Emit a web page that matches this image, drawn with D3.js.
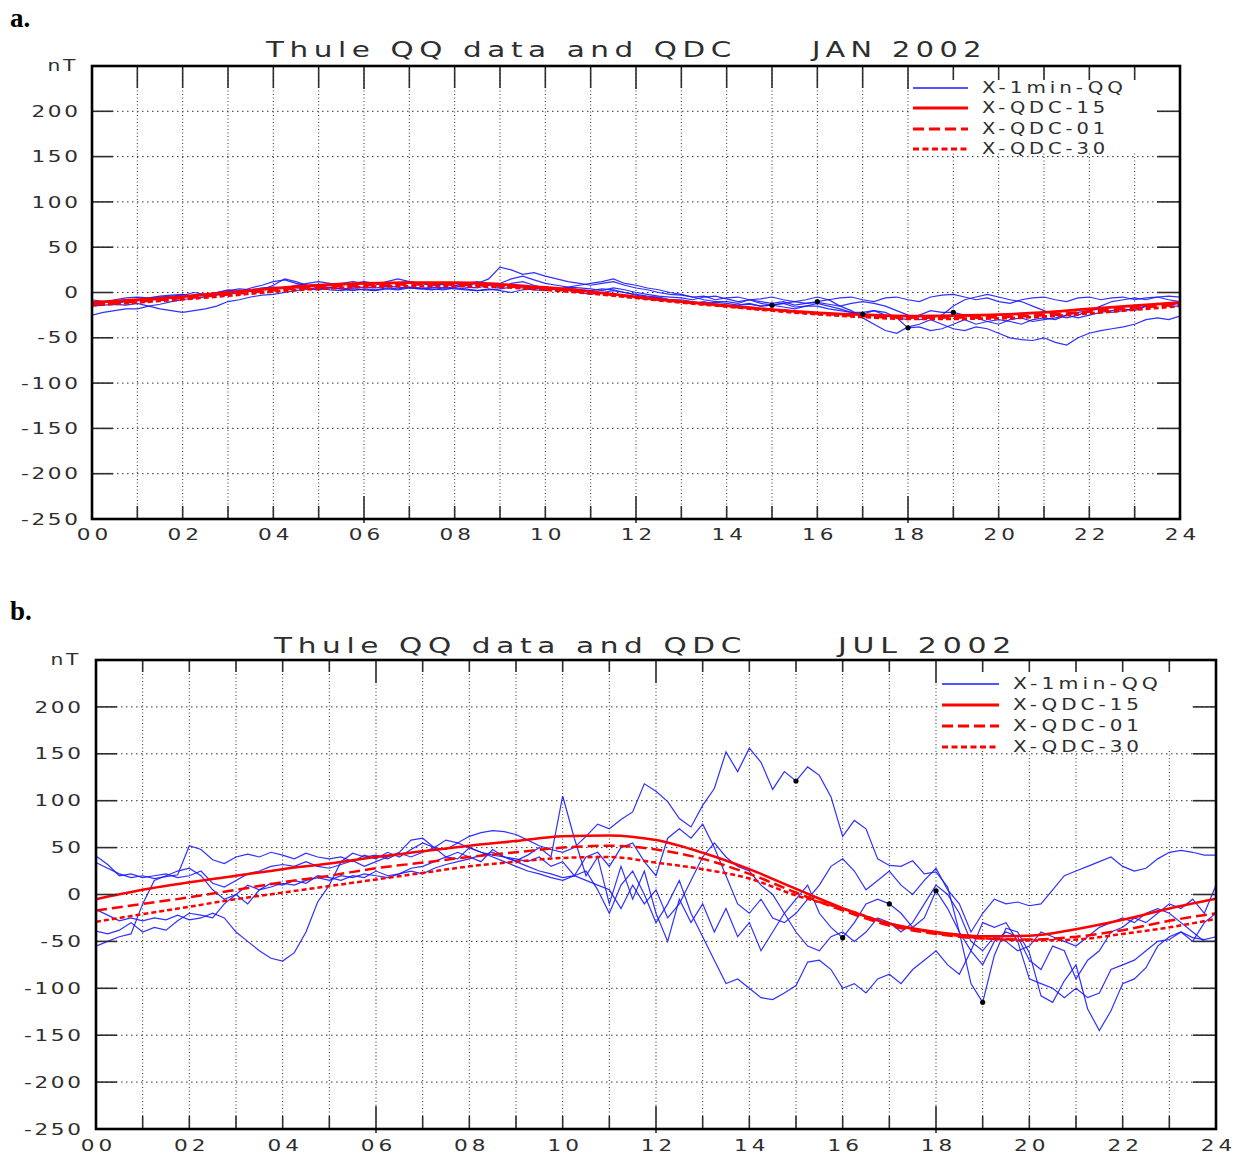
<!DOCTYPE html>
<html>
<head>
<meta charset="utf-8">
<script src="https://cdn.jsdelivr.net/npm/d3@7"></script>
<style>
body { margin: 0; background: #fff; }
svg { display: block; }
</style>
</head>
<body>
<svg id="chart" width="1248" height="1156"></svg>
<script>
// sample times: QQ curves every 15 minutes, QDC curves every hour
const hours_qq = d3.range(0, 97).map(i => i / 4);
const hours_qdc = d3.range(0, 25);

// tick labels
const x_label_hours = d3.range(0, 25, 2);
const y_label_values = [200, 150, 100, 50, 0, -50, -100, -150, -200, -250];

// ---- panel a : JAN 2002 ----
const qq_jan_1 = [
  -25, -22, -20, -18, -18, -15, -13, -10, -8, -6, -5, -3, -2, 0, 2, 3,
  8, 15, 12, 8, 5, 6, 4, 5, 6, 5, 7, 6, 5, 4, 6, 5,
  6, 8, 10, 15, 28, 25, 20, 22, 18, 15, 12, 10, 8, 10, 12, 8,
  5, 3, 0, -2, -3, -5, -8, -10, -10, -12, -8, -10, -12, -10, -14, -12,
  -10, -8, -15, -20, -28, -35, -42, -45, -38, -35, -30, -35, -40, -42, -38, -40,
  -45, -50, -52, -53, -50, -55, -58, -50, -45, -42, -40, -38, -35, -30, -28, -30,
  -26];
const qq_jan_2 = [
  -8, -10, -12, -10, -8, -6, -5, -4, -3, 0, -2, 0, 2, 4, 3, 5,
  6, 5, 8, 10, 12, 10, 8, 10, 12, 10, 9, 11, 12, 10, 8, 9,
  8, 6, 5, 8, 5, 10, 12, 8, 5, 3, 6, 8, 10, 12, 15, 10,
  8, 5, 3, 0, -2, -5, -4, -8, -6, -5, -8, -7, -5, -8, -10, -8,
  -5, -8, -6, -5, -8, -10, -6, -5, -8, -10, -5, -3, -2, -5, -8, -6,
  -10, -12, -8, -6, -5, -8, -10, -6, -5, -8, -6, -5, -8, -6, -5, -4,
  -5];
const qq_jan_3 = [
  -15, -14, -13, -14, -12, -15, -18, -20, -22, -20, -18, -15, -10, -8, -5, -3,
  -2, 0, 2, 4, 5, 3, 2, 4, 3, 2, 4, 3, 5, 4, 3, 5,
  4, 3, 2, 4, 2, 0, 3, 4, 5, 3, 2, 0, -2, 0, 2, 0,
  -3, -5, -6, -8, -10, -12, -10, -13, -15, -14, -12, -15, -14, -16, -18, -15,
  -12, -15, -18, -22, -24, -20, -22, -28, -30, -25, -20, -22, -22, -25, -28, -32,
  -35, -30, -28, -32, -30, -28, -25, -22, -20, -18, -22, -20, -18, -15, -12, -14,
  -12];
const qq_jan_4 = [
  -10, -12, -8, -6, -5, -6, -4, -3, -2, -4, -2, 0, 3, 1, 5, 8,
  12, 14, 10, 8, 6, 8, 10, 12, 10, 8, 12, 15, 12, 10, 8, 10,
  8, 10, 12, 10, 10, 15, 18, 14, 10, 8, 6, 5, 4, 2, 5, 3,
  0, -2, -4, -5, -6, -8, -5, -4, -7, -10, -8, -12, -14, -12, -10, -12,
  -11, -13, -15, -12, -10, -12, -15, -20, -25, -30, -28, -25, -15, -8, -5, -2,
  -5, -8, -10, -15, -20, -25, -28, -25, -20, -15, -10, -8, -6, -8, -5, -8,
  -10];
const qq_jan_5 = [
  -12, -10, -12, -9, -8, -9, -7, -6, -5, -3, -4, -2, 0, 2, 1, 3,
  4, 6, 5, 4, 3, 5, 4, 2, 4, 3, 5, 4, 6, 5, 4, 3,
  5, 4, 2, 3, 4, 6, 5, 3, 2, 4, 5, 3, 2, 4, 3, 0,
  -2, -4, -5, -8, -8, -10, -12, -11, -12, -14, -13, -15, -14, -12, -16, -15,
  -15, -18, -20, -22, -22, -20, -25, -28, -39, -38, -42, -40, -35, -30, -35, -32,
  -30, -32, -35, -30, -28, -30, -25, -28, -25, -22, -20, -18, -20, -15, -12, -15,
  -15];
const qdc15_jan = [-11, -8, -4.5, 0, 4.5, 8, 10, 11, 11, 9, 5.5, 1, -5, -10, -14.5, -19, -22.5, -24.5, -26, -25.5, -24.5, -22, -18, -14.5, -11];
const qdc01_jan = [-13, -10, -6, -2, 2.5, 6, 8, 9, 9, 7.5, 4, 0, -5, -10, -15, -19, -23, -26, -27.5, -27.5, -27, -25, -21, -17, -13];
const qdc30_jan = [-14, -11, -7.5, -3.5, 1, 4, 6, 7, 7, 6, 3, -1, -6, -11, -15.5, -20, -24, -27, -29, -29, -28.5, -26.5, -23, -19, -15];
const dot_hours_jan = [15, 16, 17, 18, 19];
const dot_values_jan = [-14, -10, -24, -39, -22];

// ---- panel b : JUL 2002 ----
const qq_jul_1 = [
  34, 28, 22, 18, 20, 17, 19, 21, 52, 48, 37, 33, 40, 43, 40, 45,
  42, 38, 44, 40, 38, 40, 35, 42, 38, 45, 40, 48, 55, 50, 58, 55,
  62, 66, 68, 67, 64, 58, 52, 48, 45, 50, 62, 75, 70, 80, 88, 118,
  110, 99, 81, 72, 95, 113, 152, 131, 156, 141, 112, 131, 121, 136, 127, 104,
  62, 79, 70, 38, 31, 30, 36, 22, 24, 8, -40, -95, -115, -65, -36, -40,
  -62, -108, -115, -92, -75, -122, -145, -124, -95, -90, -78, -55, -45, -40, -46, -48,
  -45];
const qq_jul_2 = [
  41, 32, 20, 22, 18, 20, 22, 18, 20, 25, 12, 8, 15, 22, 25, 30,
  32, 30, 35, 30, 28, 32, 36, 30, 35, 40, 45, 58, 60, 50, 40, 45,
  40, 35, 48, 40, 36, 42, 50, 40, 105, 60, 20, 40, -10, 30, -5, 25,
  -20, -50, -5, -30, -10, -40, -15, -45, -30, -60, -40, -20, -5, 10, -20, -35,
  -46, -30, -10, -5, -10, -20, -35, -25, 4, -15, -40, -60, -75, -50, -40, -45,
  -70, -80, -55, -60, -90, -70, -60, -40, -35, -25, -30, -20, -10, -15, -5, -20,
  10];
const qq_jul_3 = [
  -16, -22, -28, -25, -28, -25, -27, -22, -27, -25, -20, -25, -40, -50, -60, -68,
  -71, -62, -40, -8, 10, 35, 44, 40, 42, 38, 44, 40, 45, 50, 48, 55,
  50, 45, 40, 35, 30, 25, 22, 18, 15, 20, 25, 5, -20, 10, 25, 0,
  -30, -10, 15, -20, -45, -70, -95, -90, -100, -110, -112, -105, -97, -72, -70, -80,
  -100, -95, -105, -90, -85, -95, -80, -70, -60, -75, -85, -60, -30, -35, -30, -50,
  -90, -95, -100, -110, -100, -110, -105, -80, -75, -70, -60, -50, -48, -40, -50, -30,
  -20];
const qq_jul_4 = [
  -39, -42, -38, -30, -40, -35, -38, -28, -20, -22, -25, -10, 0, 10, 5, 12,
  10, 15, 12, 20, 18, 15, 20, 18, 25, 20, 22, 28, 30, 35, 40, 38,
  50, 45, 42, 40, 38, 35, 40, 30, 35, 20, 40, 45, 30, 50, 55, 35,
  20, 60, 70, 60, 75, 50, 20, -10, -20, -5, -25, -30, -20, -5, 10, 30,
  38, 25, 5, 15, 25, 10, 0, 15, 28, 5, -10, -40, -20, -5, -10, -8,
  -12, -10, 5, 20, 25, 30, 35, 40, 30, 25, 28, 38, 45, 47, 45, 42,
  42];
const qq_jul_5 = [
  -55, -50, -45, -42, -10, 15, 20, 25, 28, 20, 5, -5, 0, -10, 5, 8,
  12, 10, 15, 18, 15, 20, 18, 22, 20, 18, 22, 25, 22, 28, 32, 35,
  38, 42, 45, 40, 35, 30, 25, 22, 18, 20, 15, 10, 5, -15, 10, -10,
  5, -25, -10, 15, 40, 55, 40, 30, 25, 10, 0, -20, -40, -55, -60, -45,
  -40, -50, -40, -25, -30, -40, -30, -10, 10, 0, -20, -50, -60, -45, -50, -60,
  -55, -40, -45, -50, -55, -45, -35, -30, -25, -30, -20, -15, -20, -30, -40, -50,
  -50];
const qdc15_jul = [-5, 5, 13, 20, 27, 33, 40, 46, 52, 57, 62, 63, 58, 44.5, 27, 6, -14.5, -31, -40, -44.5, -44, -37, -27, -15, -4.6];
const qdc01_jul = [-17, -10, -3, 5, 13, 20, 28, 34, 40, 45, 50, 52, 48, 38, 22, 2, -17, -33, -42, -47, -48, -45, -38, -28, -20];
const qdc30_jul = [-29, -21, -13, -5, 2, 9, 16, 23, 30, 35, 39, 40, 34, 27, 17, -1, -15, -31, -41, -46.5, -49, -48, -42, -35, -26];
const dot_hours_jul = [15, 16, 17, 18, 19];
const dot_values_jul = [121, -46, -10, 4, -115];

const legend_labels = ["X-1min-QQ", "X-QDC-15", "X-QDC-01", "X-QDC-30"];

// colours and fonts
const blue = "#1a1aff";
const red = "#ff0000";
const ink = "#2e2e2e";
const font_family = "'DejaVu Sans', Verdana, sans-serif";
const stretch = 1.35; // the plotter font is much wider than DejaVu

const svg = d3.select("#chart");

function draw_panel(p) {
    const x = d3.scaleLinear().domain([0, 24]).range([p.left, p.right]);
    const y = d3.scaleLinear().domain([-250, 250]).range([p.bottom, p.top]);
    const g = svg.append("g");

    // panel letter
    g.append("text")
        .attr("x", 10).attr("y", p.letter_y)
        .attr("font-family", "'Liberation Serif', 'Times New Roman', serif")
        .attr("font-weight", "bold").attr("font-size", 27)
        .text(p.letter);

    // title, two pieces stretched to the reference width
    p.title.forEach(t => {
        g.append("text")
            .attr("x", t.x).attr("y", p.title_y)
            .attr("textLength", t.w).attr("lengthAdjust", "spacingAndGlyphs")
            .attr("font-family", font_family).attr("font-size", 21)
            .attr("letter-spacing", 4)
            .attr("fill", ink)
            .text(t.text);
    });

    // dotted grid
    g.append("g").selectAll("line")
        .data(d3.range(1, 24)).join("line")
        .attr("x1", d => x(d)).attr("x2", d => x(d))
        .attr("y1", p.top).attr("y2", p.bottom)
        .attr("stroke", "#333").attr("stroke-width", 1)
        .attr("stroke-dasharray", "1,2.5");
    g.append("g").selectAll("line")
        .data(d3.range(-200, 250, 50)).join("line")
        .attr("x1", p.left).attr("x2", p.right)
        .attr("y1", d => y(d)).attr("y2", d => y(d))
        .attr("stroke", "#333").attr("stroke-width", 1)
        .attr("stroke-dasharray", "1.5,3.5");

    // clip lines to the plot box
    const clip_id = "clip-" + p.letter;
    g.append("clipPath").attr("id", clip_id)
        .append("rect")
        .attr("x", p.left).attr("y", p.top)
        .attr("width", p.right - p.left).attr("height", p.bottom - p.top);
    const plot = g.append("g").attr("clip-path", `url(#${clip_id})`);

    // QQ day curves
    const qq_line = d3.line()
        .x((d, i) => x(hours_qq[i]))
        .y(d => y(d));
    p.qq.forEach(series => {
        plot.append("path")
            .attr("d", qq_line(series))
            .attr("fill", "none")
            .attr("stroke", blue)
            .attr("stroke-width", 1.2)
            .attr("stroke-opacity", 0.9);
    });

    // QDC curves
    const qdc_line = d3.line()
        .x((d, i) => x(hours_qdc[i]))
        .y(d => y(d))
        .curve(d3.curveMonotoneX);
    const qdc_styles = [
        { data: p.qdc30, dash: "5,3" },
        { data: p.qdc01, dash: "11,5" },
        { data: p.qdc15, dash: null }
    ];
    qdc_styles.forEach(s => {
        plot.append("path")
            .attr("d", qdc_line(s.data))
            .attr("fill", "none")
            .attr("stroke", red)
            .attr("stroke-width", p.red_width)
            .attr("stroke-dasharray", s.dash);
    });

    // black markers
    plot.selectAll("circle")
        .data(p.dot_hours).join("circle")
        .attr("cx", d => x(d))
        .attr("cy", (d, i) => y(p.dot_values[i]))
        .attr("r", 2.6)
        .attr("fill", "#000");

    // tick marks inside the box
    const ticks = g.append("g").attr("stroke", ink).attr("stroke-width", 1.6);
    d3.range(1, 24).forEach(h => {
        const major = h % 6 === 0;
        ticks.append("line")
            .attr("x1", x(h)).attr("x2", x(h))
            .attr("y1", p.bottom + (major ? 4 : 0))
            .attr("y2", p.bottom - (major ? 23 : 13));
        ticks.append("line")
            .attr("x1", x(h)).attr("x2", x(h))
            .attr("y1", p.top)
            .attr("y2", p.top + (major ? 23 : p.top_tick));
    });
    d3.range(-200, 250, 50).forEach(v => {
        ticks.append("line")
            .attr("x1", p.left).attr("x2", p.left + 21)
            .attr("y1", y(v)).attr("y2", y(v));
        ticks.append("line")
            .attr("x1", p.right - 23).attr("x2", p.right)
            .attr("y1", y(v)).attr("y2", y(v));
    });

    // legend with white backing (it hides the grid and the top ticks)
    const lg = p.legend;
    g.append("rect")
        .attr("x", lg.bg_x).attr("y", lg.bg_y)
        .attr("width", lg.bg_w).attr("height", lg.bg_h)
        .attr("fill", "#fff");
    const legend_styles = [
        { color: blue, width: 1.6, dash: null },
        { color: red, width: 3, dash: null },
        { color: red, width: 3, dash: "11,5" },
        { color: red, width: 3, dash: "6,3.5" }
    ];
    legend_labels.forEach((label, i) => {
        const ly = lg.rows[i];
        g.append("line")
            .attr("x1", lg.x1).attr("x2", lg.x2)
            .attr("y1", ly).attr("y2", ly)
            .attr("stroke", legend_styles[i].color)
            .attr("stroke-width", legend_styles[i].width)
            .attr("stroke-dasharray", legend_styles[i].dash);
        g.append("text")
            .attr("x", lg.text_x).attr("y", ly)
            .attr("dy", "0.36em")
            .attr("textLength", i === 0 ? lg.w_first : lg.w_other)
            .attr("lengthAdjust", "spacingAndGlyphs")
            .attr("font-family", font_family).attr("font-size", 15)
            .attr("letter-spacing", 3)
            .attr("fill", ink)
            .text(label);
    });

    // plot box
    g.append("rect")
        .attr("x", p.left).attr("y", p.top)
        .attr("width", p.right - p.left).attr("height", p.bottom - p.top)
        .attr("fill", "none").attr("stroke", "#000").attr("stroke-width", 2.6);

    // axis labels, stretched sideways around their anchor
    const x_axis = d3.axisBottom(x)
        .tickValues(x_label_hours)
        .tickFormat(d3.format("02d"))
        .tickSize(0)
        .tickPadding(p.x_label_pad);
    const xa = g.append("g")
        .attr("transform", `translate(0,${p.bottom})`)
        .call(x_axis);
    xa.select(".domain").remove();
    xa.selectAll("text")
        .attr("font-family", font_family).attr("font-size", 16)
        .attr("letter-spacing", 3).attr("dx", 1.5)
        .attr("transform", `scale(${stretch},1)`)
        .attr("fill", ink);

    const y_axis = d3.axisLeft(y)
        .tickValues(y_label_values)
        .tickFormat(d => String(d))
        .tickSize(0)
        .tickPadding(p.y_label_pad / stretch);
    const ya = g.append("g")
        .attr("transform", `translate(${p.left},0)`)
        .call(y_axis);
    ya.select(".domain").remove();
    ya.selectAll("text")
        .attr("font-family", font_family).attr("font-size", 16)
        .attr("letter-spacing", 2)
        .attr("dx", 2)
        .attr("transform", `scale(${stretch},1)`)
        .attr("fill", ink);

    g.append("text")
        .attr("transform", `translate(${p.left - p.y_label_pad},${y(250)}) scale(${stretch},1)`)
        .attr("dy", "0.32em")
        .attr("text-anchor", "end")
        .attr("font-family", font_family).attr("font-size", 15)
        .attr("letter-spacing", 2)
        .attr("fill", ink)
        .text("nT");
}

draw_panel({
    letter: "a.", letter_y: 27,
    left: 92, right: 1180, top: 66, bottom: 519,
    top_tick: 22, red_width: 2.8,
    x_label_pad: 10, y_label_pad: 14,
    title_y: 57,
    title: [
        { text: "Thule QQ data and QDC", x: 266, w: 471 },
        { text: "JAN 2002", x: 812, w: 175 }
    ],
    qq: [qq_jan_1, qq_jan_2, qq_jan_3, qq_jan_4, qq_jan_5],
    qdc15: qdc15_jan, qdc01: qdc01_jan, qdc30: qdc30_jan,
    dot_hours: dot_hours_jan, dot_values: dot_values_jan,
    legend: {
        bg_x: 909, bg_y: 80, bg_w: 247, bg_h: 73,
        x1: 913, x2: 968, text_x: 982, w_first: 145, w_other: 127,
        rows: [88, 108, 129, 149]
    }
});

draw_panel({
    letter: "b.", letter_y: 620,
    left: 96, right: 1216, top: 660, bottom: 1129,
    top_tick: 12, red_width: 2.5,
    x_label_pad: 11, y_label_pad: 15,
    title_y: 653,
    title: [
        { text: "Thule QQ data and QDC", x: 274, w: 473 },
        { text: "JUL 2002", x: 838, w: 179 }
    ],
    qq: [qq_jul_1, qq_jul_2, qq_jul_3, qq_jul_4, qq_jul_5],
    qdc15: qdc15_jul, qdc01: qdc01_jul, qdc30: qdc30_jul,
    dot_hours: dot_hours_jul, dot_values: dot_values_jul,
    legend: {
        bg_x: 938, bg_y: 674, bg_w: 254, bg_h: 77,
        x1: 942, x2: 999, text_x: 1013, w_first: 149, w_other: 130,
        rows: [684, 705, 726, 747]
    }
});
</script>
</body>
</html>
